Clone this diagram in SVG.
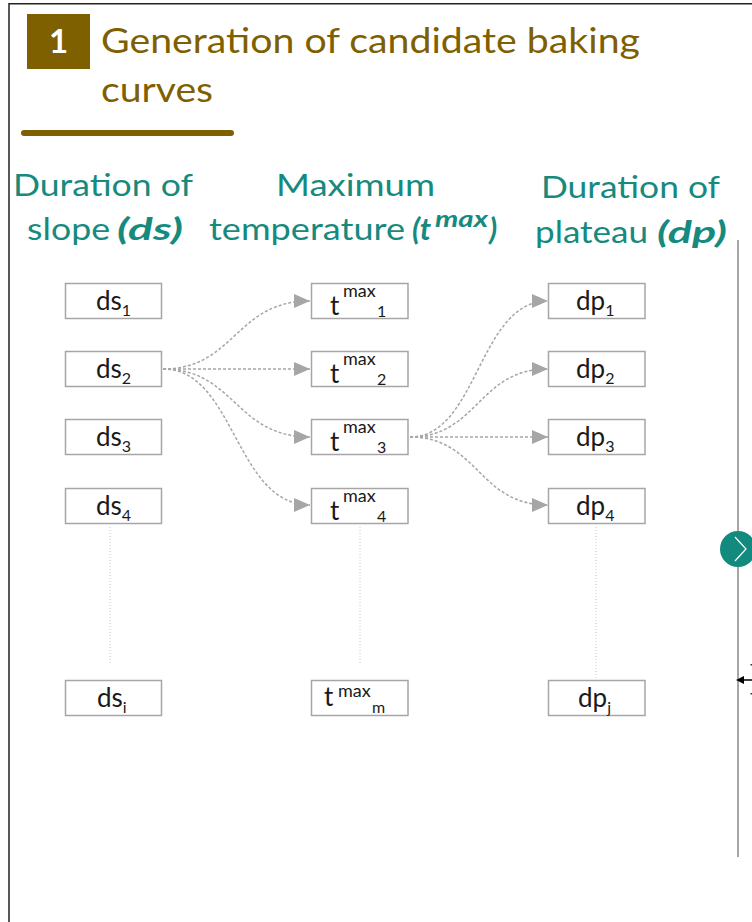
<svg xmlns="http://www.w3.org/2000/svg" width="752" height="922" viewBox="0 0 752 922">
  <style>
    .title { font-family: Lato, "Open Sans", sans-serif; fill: #7F6000; font-size: 34px; }
    .hdr { font-family: Lato, "Open Sans", sans-serif; fill: #168A7E; font-size: 31px; }
    .hdrb { font-family: Lato, "Open Sans", sans-serif; fill: #168A7E; font-size: 31px; font-weight: bold; font-style: italic; }
    .box { fill: #FFFFFF; stroke: #A6A6A6; stroke-width: 1.5; }
    .lbl { font-family: Lato, "Open Sans", sans-serif; fill: #1A1A1A; font-size: 26px; }
    .sub { font-size: 16px; }
    .tt { font-size: 26px; }
    .sup { font-size: 18px; }
    .conn { fill: none; stroke: #A6A6A6; stroke-width: 1.5; stroke-dasharray: 3 2; }
    .dots { fill: none; stroke: #C8C8C8; stroke-width: 1; stroke-dasharray: 1 2; }
  </style>
  <defs>
    <marker id="arr" markerUnits="userSpaceOnUse" markerWidth="16" markerHeight="16" viewBox="0 0 16 16" refX="16" refY="8" orient="auto">
      <path d="M0,1 L16,8 L0,15 Z" fill="#A6A6A6"/>
    </marker>
  </defs>

  <rect width="752" height="922" fill="#FFFFFF"/>
  <g id="frame">
    <path d="M9,922 L9,3.75 L752,3.75" fill="none" stroke="#222222" stroke-width="1.5"/>
    <line x1="738" y1="240" x2="738" y2="857" stroke="#A6A6A6" stroke-width="2"/>
  </g>

  <g id="title">
    <rect x="27" y="14" width="63" height="55" fill="#7F6000"/>
    <text x="58.5" y="53" text-anchor="middle" font-family="Lato, 'Open Sans', sans-serif" font-weight="bold" font-size="33" fill="#FFFFFF">1</text>
    <text class="title" x="101" y="53" textLength="539" lengthAdjust="spacingAndGlyphs">Generation of candidate baking</text>
    <text class="title" x="101" y="102" textLength="112" lengthAdjust="spacingAndGlyphs">curves</text>
    <line x1="24" y1="133" x2="231" y2="133" stroke="#7F6000" stroke-width="6" stroke-linecap="round"/>
  </g>

  <g id="headers">
    <text class="hdr" x="13" y="196" textLength="180" lengthAdjust="spacingAndGlyphs">Duration of</text>
    <text class="hdr" x="27" y="240" textLength="83" lengthAdjust="spacingAndGlyphs">slope</text>
    <text class="hdrb" x="117" y="240" textLength="66" lengthAdjust="spacingAndGlyphs">(ds)</text>

    <text class="hdr" x="276" y="196" textLength="159" lengthAdjust="spacingAndGlyphs">Maximum</text>
    <text class="hdr" x="209" y="240" textLength="196" lengthAdjust="spacingAndGlyphs">temperature</text>
    <text class="hdrb" x="412" y="240">(t</text>
    <text class="hdrb" x="435" y="227" style="font-size:22px" textLength="53" lengthAdjust="spacingAndGlyphs">max</text>
    <text class="hdrb" x="489" y="240">)</text>

    <text class="hdr" x="541" y="198" textLength="179" lengthAdjust="spacingAndGlyphs">Duration of</text>
    <text class="hdr" x="535" y="243" textLength="113" lengthAdjust="spacingAndGlyphs">plateau</text>
    <text class="hdrb" x="657" y="243" textLength="70" lengthAdjust="spacingAndGlyphs">(dp)</text>
  </g>

  <g id="connectors">
    <path class="conn" d="M163,369 C235,369 235,301 310,301" marker-end="url(#arr)"/>
    <path class="conn" d="M163,369 L310,369" marker-end="url(#arr)"/>
    <path class="conn" d="M163,369 C235,369 235,437 310,437" marker-end="url(#arr)"/>
    <path class="conn" d="M163,369 C235,369 235,505 310,505" marker-end="url(#arr)"/>

    <path class="conn" d="M410,437 C478,437 478,301 548,301" marker-end="url(#arr)"/>
    <path class="conn" d="M410,437 C478,437 478,369 548,369" marker-end="url(#arr)"/>
    <path class="conn" d="M410,437 L548,437" marker-end="url(#arr)"/>
    <path class="conn" d="M410,437 C478,437 478,505 548,505" marker-end="url(#arr)"/>

    <line class="dots" x1="110" y1="527" x2="110" y2="665"/>
    <line class="dots" x1="360" y1="527" x2="360" y2="665"/>
    <line class="dots" x1="596" y1="527" x2="596" y2="679"/>
  </g>

  <g id="ds1"><rect class="box" x="65.5" y="283.5" width="96" height="35"/>
    <text class="lbl" x="96" y="310">ds<tspan class="sub" y="316">1</tspan></text></g>
  <g id="ds2"><rect class="box" x="65.5" y="351.5" width="96" height="35"/>
    <text class="lbl" x="96" y="378">ds<tspan class="sub" y="384">2</tspan></text></g>
  <g id="ds3"><rect class="box" x="65.5" y="419.5" width="96" height="35"/>
    <text class="lbl" x="96" y="446">ds<tspan class="sub" y="452">3</tspan></text></g>
  <g id="ds4"><rect class="box" x="65.5" y="488.5" width="96" height="35"/>
    <text class="lbl" x="96" y="515">ds<tspan class="sub" y="521">4</tspan></text></g>
  <g id="dsi"><rect class="box" x="65.5" y="680.5" width="96" height="35"/>
    <text class="lbl" x="97" y="707">ds<tspan class="sub" y="713">i</tspan></text></g>

  <g id="tmax1"><rect class="box" x="311.5" y="283.5" width="96.5" height="35"/>
    <text class="lbl tt" x="330" y="315">t<tspan class="sup" x="343" y="297">max</tspan><tspan class="sub" x="377" y="317">1</tspan></text></g>
  <g id="tmax2"><rect class="box" x="311.5" y="351.5" width="96.5" height="35"/>
    <text class="lbl tt" x="330" y="383">t<tspan class="sup" x="343" y="365">max</tspan><tspan class="sub" x="377" y="385">2</tspan></text></g>
  <g id="tmax3"><rect class="box" x="311.5" y="419.5" width="96.5" height="35"/>
    <text class="lbl tt" x="330" y="451">t<tspan class="sup" x="343" y="433">max</tspan><tspan class="sub" x="377" y="453">3</tspan></text></g>
  <g id="tmax4"><rect class="box" x="311.5" y="488.5" width="96.5" height="35"/>
    <text class="lbl tt" x="330" y="520">t<tspan class="sup" x="343" y="502">max</tspan><tspan class="sub" x="377" y="522">4</tspan></text></g>
  <g id="tmaxm"><rect class="box" x="311.5" y="680.5" width="96.5" height="35"/>
    <text class="lbl tt" x="324" y="706">t<tspan class="sup" x="338" y="697">max</tspan><tspan class="sub" x="372" y="713">m</tspan></text></g>

  <g id="dp1"><rect class="box" x="548.5" y="283.5" width="96.5" height="35"/>
    <text class="lbl" x="576" y="310">dp<tspan class="sub" y="316">1</tspan></text></g>
  <g id="dp2"><rect class="box" x="548.5" y="351.5" width="96.5" height="35"/>
    <text class="lbl" x="576" y="378">dp<tspan class="sub" y="384">2</tspan></text></g>
  <g id="dp3"><rect class="box" x="548.5" y="419.5" width="96.5" height="35"/>
    <text class="lbl" x="576" y="446">dp<tspan class="sub" y="452">3</tspan></text></g>
  <g id="dp4"><rect class="box" x="548.5" y="488.5" width="96.5" height="35"/>
    <text class="lbl" x="576" y="515">dp<tspan class="sub" y="521">4</tspan></text></g>
  <g id="dpj"><rect class="box" x="548.5" y="680.5" width="96.5" height="35"/>
    <text class="lbl" x="578" y="707">dp<tspan class="sub" y="713">j</tspan></text></g>

  <g id="next-button">
    <circle cx="738" cy="549" r="18" fill="#138A7E"/>
    <path d="M735,537 L746,549 L735,561" fill="none" stroke="#FFFFFF" stroke-width="1.2"/>
  </g>
  <g id="resize-handle">
    <path d="M736,680 L744,676 L744,684 Z" fill="#000000"/>
    <line x1="743" y1="680" x2="752" y2="680" stroke="#000000" stroke-width="1.5"/>
    <rect x="750.5" y="664" width="1.5" height="1.5" fill="#333333"/>
    <rect x="750.5" y="693" width="1.5" height="1.5" fill="#333333"/>
  </g>
</svg>
